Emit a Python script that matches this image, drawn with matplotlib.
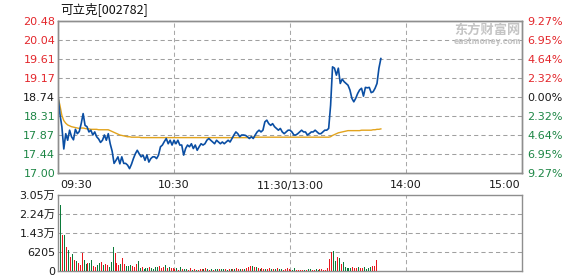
import numpy as np
import matplotlib
matplotlib.use("Agg")
import matplotlib.pyplot as plt

# ---------------- data ----------------
title = "可立克[002782]"
prev_close = 18.74
price_ticks = ["17.00", "17.44", "17.87", "18.31", "18.74", "19.17", "19.61", "20.04", "20.48"]
pct_ticks = ["9.27%", "6.95%", "4.64%", "2.32%", "0.00%", "2.32%", "4.64%", "6.95%", "9.27%"][::-1]
time_labels = ["09:30", "10:30", "11:30/13:00", "14:00", "15:00"]
time_label_pos = [0, 60, 120, 180, 240]
vol_tick_labels = ["0", "6205", "1.43万", "2.24万", "3.05万"]
vol_max = 30500

prices = [
    18.78, 18.35, 18.06, 17.55, 17.90, 17.75, 17.98, 17.83, 17.76, 18.00,
    17.90, 17.95, 18.13, 18.36, 18.09, 18.06, 17.94, 17.98, 17.87, 17.94,
    17.83, 17.78, 17.70, 17.75, 17.87, 17.75, 17.90, 17.67, 17.50, 17.22,
    17.29, 17.37, 17.21, 17.37, 17.22, 17.22, 17.18, 17.10, 17.20, 17.33,
    17.44, 17.52, 17.44, 17.37, 17.41, 17.29, 17.41, 17.25, 17.33, 17.37,
    17.37, 17.33, 17.41, 17.60, 17.64, 17.72, 17.79, 17.67, 17.75, 17.64,
    17.75, 17.67, 17.75, 17.64, 17.64, 17.41, 17.56, 17.64, 17.60, 17.67,
    17.56, 17.64, 17.52, 17.60, 17.67, 17.64, 17.67, 17.75, 17.79, 17.75,
    17.71, 17.67, 17.75, 17.71, 17.67, 17.71, 17.67, 17.71, 17.75, 17.71,
    17.79, 17.87, 17.94, 17.90, 17.83, 17.87, 17.87, 17.86, 17.83, 17.79,
    17.83, 17.79, 17.87, 17.94, 17.98, 17.94, 17.98, 18.17, 18.21, 18.13,
    18.09, 18.13, 18.06, 18.02, 17.98, 18.02, 17.94, 17.90, 17.94, 17.98,
    17.98, 17.94, 17.87, 17.87, 17.90, 17.94, 17.98, 17.94, 17.94, 17.87,
    17.90, 17.94, 17.94, 17.98, 17.94, 17.90, 17.90, 17.94, 17.98, 17.98,
    18.02, 18.55, 19.43, 19.40, 19.24, 19.40, 19.05, 19.15, 19.09, 19.05,
    19.01, 18.90, 18.71, 18.63, 18.71, 18.82, 18.90, 18.94, 18.76, 18.96,
    18.95, 18.96, 18.84, 18.86, 18.94, 19.05, 19.40, 19.62,
]

avg_prices = [
    18.74, 18.55, 18.32, 18.20, 18.14, 18.10, 18.08, 18.06, 18.05, 18.04,
    18.03, 18.02, 18.03, 18.03, 18.02, 18.01, 18.01, 18.00, 18.00, 18.00,
    18.00, 17.99, 17.99, 17.99, 17.99, 17.99, 17.99, 17.97, 17.95, 17.93,
    17.91, 17.89, 17.87, 17.86, 17.85, 17.84, 17.83, 17.83, 17.82, 17.82,
    17.82, 17.82, 17.82, 17.81, 17.81, 17.81, 17.81, 17.81, 17.81, 17.81,
    17.81, 17.81, 17.81, 17.81, 17.81, 17.81, 17.81, 17.81, 17.81, 17.81,
    17.81, 17.81, 17.81, 17.81, 17.81, 17.81, 17.81, 17.81, 17.81, 17.81,
    17.81, 17.81, 17.81, 17.81, 17.81, 17.81, 17.81, 17.81, 17.81, 17.81,
    17.81, 17.81, 17.81, 17.81, 17.81, 17.81, 17.81, 17.81, 17.81, 17.81,
    17.81, 17.81, 17.81, 17.81, 17.81, 17.81, 17.81, 17.81, 17.81, 17.81,
    17.82, 17.82, 17.82, 17.82, 17.82, 17.82, 17.82, 17.82, 17.82, 17.82,
    17.82, 17.82, 17.82, 17.82, 17.82, 17.82, 17.82, 17.82, 17.82, 17.82,
    17.82, 17.82, 17.82, 17.82, 17.82, 17.82, 17.82, 17.82, 17.82, 17.82,
    17.82, 17.82, 17.82, 17.82, 17.82, 17.82, 17.82, 17.82, 17.82, 17.82,
    17.82, 17.83, 17.86, 17.88, 17.90, 17.92, 17.93, 17.94, 17.95, 17.96,
    17.97, 17.97, 17.97, 17.97, 17.97, 17.97, 17.97, 17.98, 17.98, 17.98,
    17.98, 17.98, 17.98, 17.99, 17.99, 18.00, 18.00, 18.01,
]

volumes = [
    26500, 14400, 14400, 9500, 8400, 5750, 6800, 4400, 4000, 3070,
    2300, 7100, 4400, 2900, 3070, 3340, 4400, 2000, 1470, 2400,
    3340, 3740, 2400, 2800, 2400, 1700, 3740, 9750, 7350, 3340,
    2400, 2800, 5200, 2800, 2000, 2000, 2400, 2000, 1470, 2800,
    4150, 1070, 1470, 930, 1200, 1200, 1470, 1070, 800, 1470,
    1470, 1870, 1340, 1470, 2400, 1070, 1470, 1070, 1200, 800,
    1070, 400, 1470, 800, 800, 800, 400, 1070, 400, 670,
    400, 400, 670, 670, 930, 1070, 670, 400, 670, 400,
    670, 670, 800, 670, 670,
    670, 400, 800, 670, 670, 800, 1070, 930, 670, 800,
    670, 1200, 1470, 2000, 2000, 1470, 1470, 1200, 800, 1070,
    800, 670, 800, 1070, 670, 670, 930, 1070, 670,
    670, 400, 670, 1070, 670, 400, 400, 1070, 400, 400,
    400, 400, 400, 400, 670, 670, 400, 400, 800, 400,
    800, 800, 400, 400, 1340, 4800, 7750, 8000, 4000, 5500,
    5100, 2800, 3740, 1470, 1070, 1200, 1200, 1470, 1200, 1200,
    1470, 1200, 1070, 1470, 800, 1200, 1470, 2000, 2000, 4400,
]

vol_dirs = list(
    "GRGRGRGRGR" "RRGGRGGRRG" "GRGRRGGGRR" "RGRRGGGRRR" "GGRGGGRGGG"
    "GRRRGRGRRR" "GRGRGGRRGR" "GRRRGRGRGR" "GGRGG"
    "RGRGRGRRGR" "GRRRGRGRGR" "RGRRGRGRG"
    "GRRRRRGGRR" "RRGRGGRRGG" "RRRRRRRGGR" "GRGGGGGRRR" "GRRGGGGRRR"
)

# ---------------- style ----------------
RED = "#e3262b"
GREEN = "#1d8645"
BLUE = "#0a4ea3"
ORANGE = "#e2a31c"
VRED = "#e8161c"
VGREEN = "#0b7a39"
SPINE = "#8e8e8e"
GRID = "#a8a8a8"
HGRID = "#a0a0a0"
DASH = (0, (4, 3))

W, H = 578, 276
fig = plt.figure(figsize=(W / 100, H / 100), dpi=100)
fig.patch.set_facecolor("white")

def fx(px):
    return px / W

def fy(py):
    return 1 - py / H

L, R = 58, 522
ax = fig.add_axes([fx(L), fy(173), fx(R - L), (173 - 21) / H])
axv = fig.add_axes([fx(L), fy(271), fx(R - L), (271 - 195) / H])

minutes = np.arange(len(prices))

ymin, ymax = float(price_ticks[0]), float(price_ticks[-1])
ax.set_xlim(0, 240)
ax.set_ylim(ymin, ymax)
tick_pos = np.linspace(ymin, ymax, len(price_ticks))

# dashed grid lines first (under the data)
ax.hlines(tick_pos[1:-1], 0, 240, colors=HGRID, linewidth=0.75,
          linestyles=DASH, zorder=1)
ax.vlines(time_label_pos[1:-1], ymin, ymax, colors=GRID, linewidth=0.75,
          linestyles=DASH, zorder=1)

ax.plot(minutes, avg_prices, color=ORANGE, lw=1.0, zorder=3)
ax.plot(minutes, prices, color=BLUE, lw=1.2, zorder=4)

ax.set_yticks(tick_pos)
ax.set_yticklabels(price_ticks)
mid = len(price_ticks) // 2
for i, lab in enumerate(ax.get_yticklabels()):
    lab.set_color(RED if i > mid else ("#1a1a1a" if i == mid else GREEN))
ax.set_xticks([])
ax.tick_params(axis="y", length=0, pad=2, labelsize=8)

axr = ax.twinx()
axr.set_ylim(ymin, ymax)
axr.set_yticks(tick_pos)
axr.set_yticklabels(pct_ticks)
for i, lab in enumerate(axr.get_yticklabels()):
    lab.set_color(RED if i > mid else ("#1a1a1a" if i == mid else GREEN))
axr.tick_params(axis="y", length=0, pad=4, labelsize=8)

for a in (ax, axr, axv):
    for s in a.spines.values():
        s.set_color(SPINE)
        s.set_linewidth(1.0)

# volume
axv.set_xlim(0, 240)
axv.set_ylim(0, vol_max)
vt = np.linspace(0, vol_max, len(vol_tick_labels))
axv.hlines(vt[1:-1], 0, 240, colors=HGRID, linewidth=0.75, linestyles=DASH, zorder=1)
axv.vlines(time_label_pos[1:-1], 0, vol_max, colors=GRID, linewidth=0.75,
           linestyles=DASH, zorder=1)
vpos = np.arange(len(volumes)) + 1.5
vcols = [VRED if d == "R" else VGREEN for d in vol_dirs[:len(volumes)]]
axv.bar(vpos, volumes, width=0.55, color=vcols, zorder=3, linewidth=0)
axv.set_yticks(vt)
axv.set_yticklabels(vol_tick_labels, family=["DejaVu Sans", "Noto Sans CJK SC"])
axv.tick_params(axis="y", length=0, pad=2, labelsize=8, colors="#1a1a1a")
axv.set_xticks([])

# time labels between panels
for lab, m in zip(time_labels, time_label_pos):
    xpx = L + (R - L) * m / 240
    ha = "center"
    if m == 0:
        ha, xpx = "left", xpx + 2
    elif m == 240:
        ha, xpx = "right", xpx - 2
    fig.text(fx(xpx), fy(185.5), lab, ha=ha, va="center", fontsize=8, color="#1a1a1a")

# title
fig.text(fx(60), fy(9), title, ha="left", va="center", fontsize=9,
         family=["Noto Sans CJK SC", "DejaVu Sans"], color="#111111")

# watermark logo
fig.text(fx(521), fy(29.5), "东方财富网", ha="right", va="center", fontsize=9.5,
         fontweight="bold", family=["Noto Sans CJK SC", "DejaVu Sans"], color="#c4c4c4")
fig.text(fx(521), fy(42), "eastmoney.com", ha="right", va="center", fontsize=5.5,
         fontweight="bold", color="#c4c4c4")

fig.savefig("out.png", dpi=100, facecolor="white")
